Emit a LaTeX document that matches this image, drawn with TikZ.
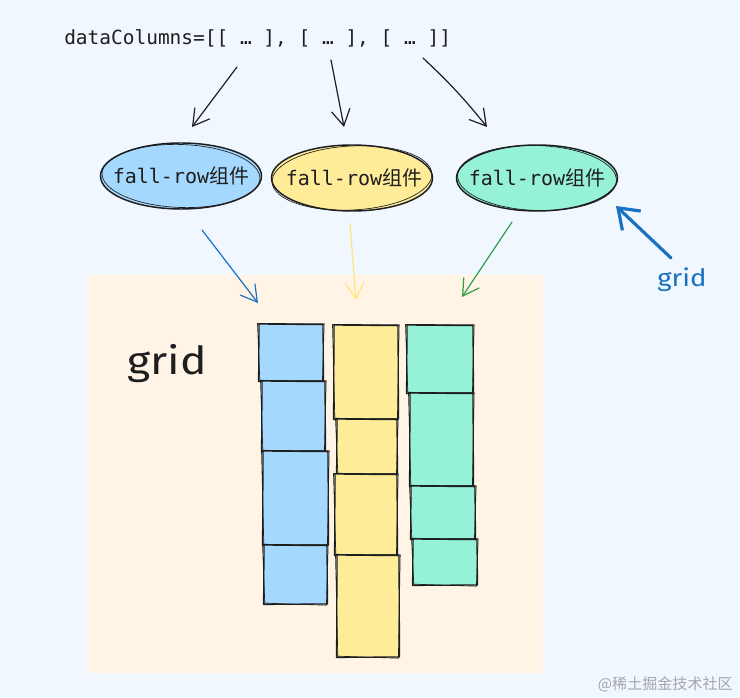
\documentclass[tikz,border=0pt]{standalone}
\usepackage{fontspec}
\setmainfont{DejaVu Sans}
\setmonofont{DejaVu Sans Mono}
\newfontfamily\cjk{Noto Sans CJK SC}
\newfontfamily\hand{Fira Sans}
\usetikzlibrary{shapes.geometric,arrows.meta}
\definecolor{pagebg}{HTML}{F1F7FE}
\definecolor{gridbg}{HTML}{FFF4E6}
\definecolor{cblue}{HTML}{A5D8FF}
\definecolor{cyellow}{HTML}{FFEC99}
\definecolor{cgreen}{HTML}{96F2D7}
\definecolor{ink}{HTML}{1E1E1E}
\definecolor{ablue}{HTML}{1971C2}
\definecolor{ayellow}{HTML}{FFE47A}
\definecolor{agreen}{HTML}{2F9E44}
\definecolor{wm}{HTML}{A3A6AA}
\tikzset{
  skline/.style={draw=ink, line width=1pt, line join=round, line cap=round},
  skthin/.style={draw=ink, line width=0.5pt, line join=round, line cap=round},
  comp/.style={ellipse, draw=ink, line width=1.1pt, minimum width=120.75pt, minimum height=49.5pt, inner sep=0pt},
  comptext/.style={inner sep=0pt, font=\ttfamily\fontsize{15}{17}\selectfont, text=ink},
  barb/.style={-{Straight Barb[length=12pt,width=14pt]}, line width=0.9pt, line cap=round},
  thickbarb/.style={-{Straight Barb[length=14pt,width=20pt]}, line width=2.4pt, line cap=round, draw=ablue}
}
\newcommand{\skbox}[5]{%
  \fill[#5] (#1,#2) rectangle (#3,#4);
  \draw[skline] (#1,#2) -- (#3,#2+0.6) -- (#3+0.5,#4) -- (#1-0.4,#4+0.4) -- cycle;
  \draw[skthin] (#1-1.5,#2-0.5) -- (#3+1.2,#2-0.3) -- (#3-0.6,#4+1.2) -- (#1+0.8,#4-0.8) -- cycle;
}
\begin{document}
\begin{tikzpicture}[x=0.75pt,y=-0.75pt]
\fill[pagebg] (0,0) rectangle (740,698);
\useasboundingbox (0,0) rectangle (740,698);
% grid background
\fill[gridbg] (87,275) rectangle (543,673);

% title
\node[anchor=base west, inner sep=0pt, text=ink, font=\ttfamily\fontsize{14.6}{16}\selectfont] (title) at (64,45) {dataColumns=[[ … ], [ … ], [ … ]]};

% components
\node[comp, fill=cblue] (c1) at (181,176) {};
\node[comp, fill=cyellow] (c2) at (352,178) {};
\node[comp, fill=cgreen] (c3) at (537,178) {};
\draw[skthin] (181,176) ellipse [x radius=79, y radius=31.5, rotate=-2];
\draw[skthin] (352,178) ellipse [x radius=80, y radius=32, rotate=3];
\draw[skthin] (537,178) ellipse [x radius=79.5, y radius=32.5, rotate=-2];
\node[comptext] (t1) at (c1) {fall-row{\cjk 组件}};
\node[comptext] (t2) at ([xshift=1.5pt]c2) {fall-row{\cjk 组件}};
\node[comptext] (t3) at (c3) {fall-row{\cjk 组件}};

% arrows from title
\coordinate (s1) at (237,67);  \coordinate (e1) at (192,127);
\coordinate (s2) at (331,60);  \coordinate (e2) at (344,127);
\coordinate (s3) at (423,58);  \coordinate (e3) at (487,127);
\draw[barb, draw=ink] (s1) -- (e1);
\draw[barb, draw=ink] (s2) -- (e2);
\draw[barb, draw=ink] (s3) to[bend left=4] (e3);

% arrows into grid
\coordinate (b1) at (202,230); \coordinate (f1) at (258,303);
\coordinate (b2) at (350,224); \coordinate (f2) at (356,300);
\coordinate (b3) at (512,222); \coordinate (f3) at (462,297);
\draw[barb, draw=ablue] (b1) -- (f1);
\draw[barb, draw=ayellow] (b2) -- (f2);
\draw[barb, draw=agreen] (b3) -- (f3);

% blue grid arrow
\coordinate (g0) at (671,258); \coordinate (g1) at (616,206);
\draw[thickbarb] (g0) -- (g1);
\node[anchor=base, inner sep=0pt, text=ablue, font=\hand\fontsize{18}{20}\selectfont, xscale=1.15] (gridlbl) at (682,287) {grid};

% big grid label
\node[anchor=base west, inner sep=0pt, text=ink, font=\hand\fontsize{29}{32}\selectfont, xscale=1.15] (gridtxt) at (127,375) {grid};

% blue column
\skbox{259}{324}{323}{381}{cblue}
\skbox{262}{381}{325}{451}{cblue}
\skbox{263}{451}{328}{545}{cblue}
\skbox{264}{545}{327}{604}{cblue}
% yellow column
\skbox{334}{325}{398}{419}{cyellow}
\skbox{337}{419}{397}{474}{cyellow}
\skbox{335}{474}{397}{555}{cyellow}
\skbox{337}{555}{399}{657}{cyellow}
% green column
\skbox{407}{325}{473}{393}{cgreen}
\skbox{410}{393}{473}{486}{cgreen}
\skbox{411}{486}{475}{539}{cgreen}
\skbox{413}{539}{477}{585}{cgreen}

% watermark
\node[anchor=base east, inner sep=0pt, text=wm, font=\cjk\fontsize{11.3}{13}\selectfont] (wmark) at (733,690) {@稀土掘金技术社区};
\end{tikzpicture}
\end{document}
